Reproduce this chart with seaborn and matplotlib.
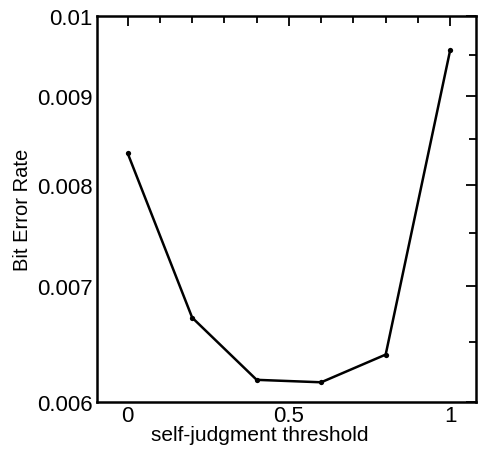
import matplotlib
matplotlib.use("Agg")
import matplotlib.pyplot as plt
import matplotlib.ticker as mticker
import seaborn as sns
import pandas as pd

threshold = [0.0, 0.2, 0.4, 0.6, 0.8, 1.0]
bit_error_rate = [0.00834, 0.00671, 0.00618, 0.00616, 0.00639, 0.00956]
y_major = [0.006, 0.007, 0.008, 0.009, 0.01]
y_major_labels = ["0.006", "0.007", "0.008", "0.009", "0.01"]
y_minor = [0.0065, 0.0075, 0.0085, 0.0095]
x_major = [0, 0.5, 1]
x_major_labels = ["0", "0.5", "1"]

sns.set_theme(style="white")
plt.rcParams['font.family'] = ['Liberation Sans', 'DejaVu Sans']

df = pd.DataFrame({"threshold": threshold, "ber": bit_error_rate})

fig = plt.figure(figsize=(4.81, 4.52), dpi=100)
ax = fig.add_axes([0.2017, 0.108, 0.7879, 0.8544])
sns.lineplot(data=df, x="threshold", y="ber", ax=ax, color="black",
             linewidth=1.8, marker="o", markersize=3.8, markeredgewidth=0)

ax.set_yscale("log")
ax.set_ylim(0.006, 0.01)
ax.set_xlim(-0.095, 1.08)
ax.yaxis.set_major_locator(mticker.FixedLocator(y_major))
ax.yaxis.set_major_formatter(mticker.FixedFormatter(y_major_labels))
ax.yaxis.set_minor_locator(mticker.FixedLocator(y_minor))
ax.yaxis.set_minor_formatter(mticker.NullFormatter())
ax.xaxis.set_major_locator(mticker.FixedLocator(x_major))
ax.xaxis.set_major_formatter(mticker.FixedFormatter(x_major_labels))
ax.xaxis.set_minor_locator(mticker.FixedLocator([i / 10 for i in range(11) if i not in (0, 5, 10)]))

ax.tick_params(axis="both", which="both", direction="in", top=True, right=True,
               color="black", width=1.3)
ax.tick_params(axis="both", which="major", length=7, labelsize=16, pad=3,
               labelcolor="black")
ax.tick_params(axis="x", which="major", pad=2)
ax.tick_params(axis="both", which="minor", length=5)

for s in ax.spines.values():
    s.set_color("black")
    s.set_linewidth(1.8)

ax.set_xlabel("self-judgment threshold", fontsize=15, color="black")
ax.xaxis.set_label_coords(0.43, -0.058)
ax.set_ylabel("Bit Error Rate", fontsize=14.5, color="black", labelpad=4)

fig.savefig("out.png", dpi=100)
